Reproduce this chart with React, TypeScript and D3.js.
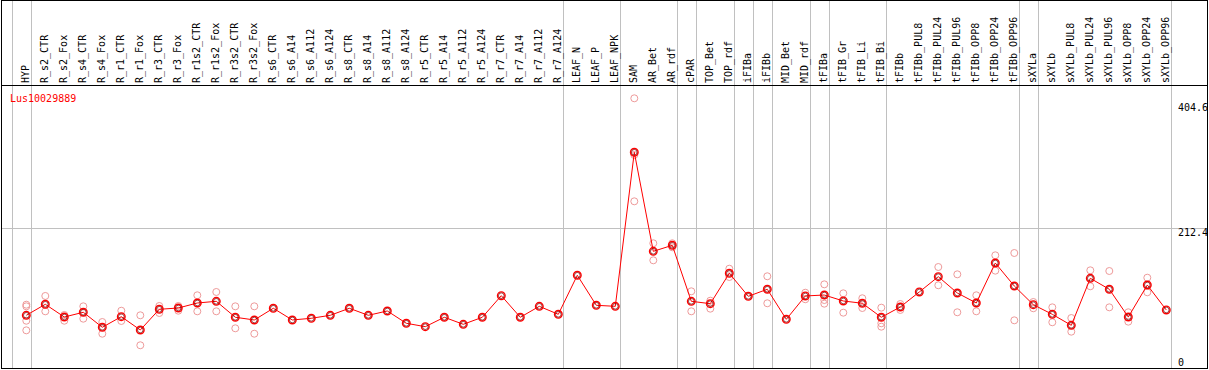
import React, { useEffect, useRef } from "react";
import * as d3 from "d3";

// Conditions (column labels)
const categories = [
  "HYP", "R_s2_CTR", "R_s2_Fox", "R_s4_CTR", "R_s4_Fox", "R_r1_CTR", "R_r1_Fox", "R_r3_CTR", "R_r3_Fox",
  "R_r1s2_CTR", "R_r1s2_Fox", "R_r3s2_CTR", "R_r3s2_Fox", "R_s6_CTR", "R_s6_A14", "R_s6_A112", "R_s6_A124",
  "R_s8_CTR", "R_s8_A14", "R_s8_A112", "R_s8_A124", "R_r5_CTR", "R_r5_A14", "R_r5_A112", "R_r5_A124",
  "R_r7_CTR", "R_r7_A14", "R_r7_A112", "R_r7_A124", "LEAF_N", "LEAF_P", "LEAF_NPK", "SAM", "AR_Bet", "AR_rdf",
  "cPAR", "TOP_Bet", "TOP_rdf", "iFIBa", "iFIBb", "MID_Bet", "MID_rdf", "tFIBa", "tFIB_Gr", "tFIB_Li", "tFIB_Bi",
  "tFIBb", "tFIBb_PUL8", "tFIBb_PUL24", "tFIBb_PUL96", "tFIBb_OPP8", "tFIBb_OPP24", "tFIBb_OPP96",
  "sXYLa", "sXYLb", "sXYLb_PUL8", "sXYLb_PUL24", "sXYLb_PUL96", "sXYLb_OPP8", "sXYLb_OPP24", "sXYLb_OPP96"
];

// mean expression per condition
const meanValues = [
  83.8, 100.1, 81.3, 88.3, 66.1, 81.8, 62.1, 92.7, 94.6,
  102.0, 104.5, 80.9, 76.9, 94.2, 76.9, 79.4, 83.8,
  94.2, 83.8, 90.2, 72.0, 67.0, 80.9, 70.5, 80.9,
  112.8, 80.9, 97.1, 85.3, 143.0, 98.6, 97.1, 324.8, 178.4, 187.3,
  104.5, 101.0, 145.9, 111.9, 122.3, 77.9, 112.4, 113.8, 105.0, 101.6, 80.9,
  96.1, 118.3, 140.9, 116.8, 102.0, 161.1, 127.1,
  99.5, 85.3, 69.0, 138.5, 122.3, 81.3, 128.6, 91.7
];

// replicate values per condition (hidden ones sit under the mean)
const replicates = [
  [99.5, 97.1, 75.8, 61.6], [112.4, 89.7], [84.3, 75.8], [97.1, 78.8], [73.9, 56.6], [90.6, 75.4], [83.8, 39.5], [97.6, 87.2], [97.6, 90.6],
  [113.4, 89.7], [118.3, 89.7], [97.1, 64.6], [97.1, 56.6], [], [], [], [],
  [], [], [], [], [], [], [], [],
  [], [], [], [], [], [], [], [404.6, 320.8, 252.3], [190.3, 165.1], [190.3, 184.3],
  [119.3, 89.7], [105.4, 93.6], [152.7, 140.4], [], [141.5, 101.6], [], [117.2, 107.5], [129.6, 106.4, 101.0], [116.3, 87.7], [109.0, 94.6], [95.1, 72.0, 67.0],
  [91.7, 100.5], [], [155.2, 128.2], [144.4, 88.3], [113.4, 89.7], [172.5, 149.8], [175.9, 76.4],
  [103.5, 94.2], [95.6, 73.5], [79.8, 59.6], [150.3, 126.7], [149.3, 95.6], [88.3, 74.4], [139.4, 117.8], []
];

// last column of each tissue group (a separator is drawn after it)
const groupLast = [
  "HYP", "R_r7_A124", "LEAF_NPK", "AR_rdf", "cPAR", "TOP_rdf", "iFIBa", "iFIBb",
  "MID_rdf", "tFIBa", "tFIB_Bi", "tFIBb_OPP96", "sXYLa", "sXYLb_OPP96"
];

const geneId = "Lus10029889";
const yMax = 404.6;
const yMid = 212.4;

const App = () => {
  const svgRef = useRef(null);

  useEffect(() => {
    const width = 1209, height = 370;
    const headerY = 85.5;
    const font = "'DejaVu Sans Mono', monospace";

    const svg = d3.select(svgRef.current);
    svg.selectAll("*").remove();

    const x = d3.scalePoint()
      .domain(categories)
      .range([26.3, 1166.3]);

    const y = d3.scaleLinear()
      .domain([0, yMax])
      .range([372, 98.3]);

    const step = x.step();
    const snap = (v) => Math.round(v) + 0.5;

    // separators
    const sepX = [x(categories[0]) - step + 4.4].concat(groupLast.map(c => x(c) + 4.4));
    svg.append("g")
      .selectAll("line")
      .data(sepX)
      .join("line")
      .attr("x1", d => snap(d))
      .attr("x2", d => snap(d))
      .attr("y1", 0)
      .attr("y2", height - 2)
      .attr("stroke", "#c0c0c0")
      .attr("stroke-width", 1);

    // gridline at mid value
    svg.append("line")
      .attr("x1", 1)
      .attr("x2", width - 2)
      .attr("y1", snap(y(yMid)))
      .attr("y2", snap(y(yMid)))
      .attr("stroke", "#c0c0c0");

    // header labels
    svg.append("g")
      .selectAll("text")
      .data(categories)
      .join("text")
      .attr("transform", d => `translate(${x(d) + 3},83) rotate(-90)`)
      .attr("font-family", font)
      .attr("font-size", 10)
      .attr("fill", "#000")
      .text(d => d);

    // header line and frame
    svg.append("line")
      .attr("x1", 1)
      .attr("x2", width - 2)
      .attr("y1", headerY)
      .attr("y2", headerY)
      .attr("stroke", "#000");

    svg.append("rect")
      .attr("x", 1.5)
      .attr("y", 0.5)
      .attr("width", 1206)
      .attr("height", 368)
      .attr("fill", "none")
      .attr("stroke", "#000");

    // axis labels on the right
    const axisX = 1178;
    svg.append("text")
      .attr("x", axisX).attr("y", y(yMax) + 13)
      .attr("font-family", font).attr("font-size", 10)
      .text(yMax);
    svg.append("text")
      .attr("x", axisX).attr("y", y(yMid) + 8)
      .attr("font-family", font).attr("font-size", 10)
      .text(yMid);
    svg.append("text")
      .attr("x", axisX).attr("y", y(0) - 6)
      .attr("font-family", font).attr("font-size", 10)
      .text(0);

    // gene id
    svg.append("text")
      .attr("x", 10)
      .attr("y", 102)
      .attr("font-family", font)
      .attr("font-size", 10)
      .attr("fill", "red")
      .text(geneId);

    // replicates
    const repPts = categories.flatMap((c, i) => replicates[i].map(v => ({ c, v })));
    svg.append("g")
      .selectAll("circle")
      .data(repPts)
      .join("circle")
      .attr("cx", d => x(d.c))
      .attr("cy", d => y(d.v))
      .attr("r", 3.5)
      .attr("fill", "none")
      .attr("stroke", "#ee9a9a")
      .attr("stroke-width", 1);

    // mean line
    const pts = categories.map((c, i) => ({ c, v: meanValues[i] }));
    const line = d3.line()
      .x(d => x(d.c))
      .y(d => y(d.v));

    svg.append("path")
      .datum(pts)
      .attr("fill", "none")
      .attr("stroke", "red")
      .attr("stroke-width", 1)
      .attr("d", line);

    const marks = svg.append("g")
      .selectAll("g")
      .data(pts)
      .join("g")
      .attr("transform", d => `translate(${x(d.c)},${y(d.v)})`);

    marks.append("circle")
      .attr("r", 3.8)
      .attr("fill", "none")
      .attr("stroke", "red")
      .attr("stroke-width", 1.4);

    marks.append("circle")
      .attr("r", 2.8)
      .attr("fill", "none")
      .attr("stroke", "#700000")
      .attr("stroke-width", 0.7);
  }, []);

  return (
    <svg
      ref={svgRef}
      width="1209"
      height="370"
      style={{ position: "absolute", left: 0, top: 0, background: "#fff" }}
    ></svg>
  );
};

export default App;
